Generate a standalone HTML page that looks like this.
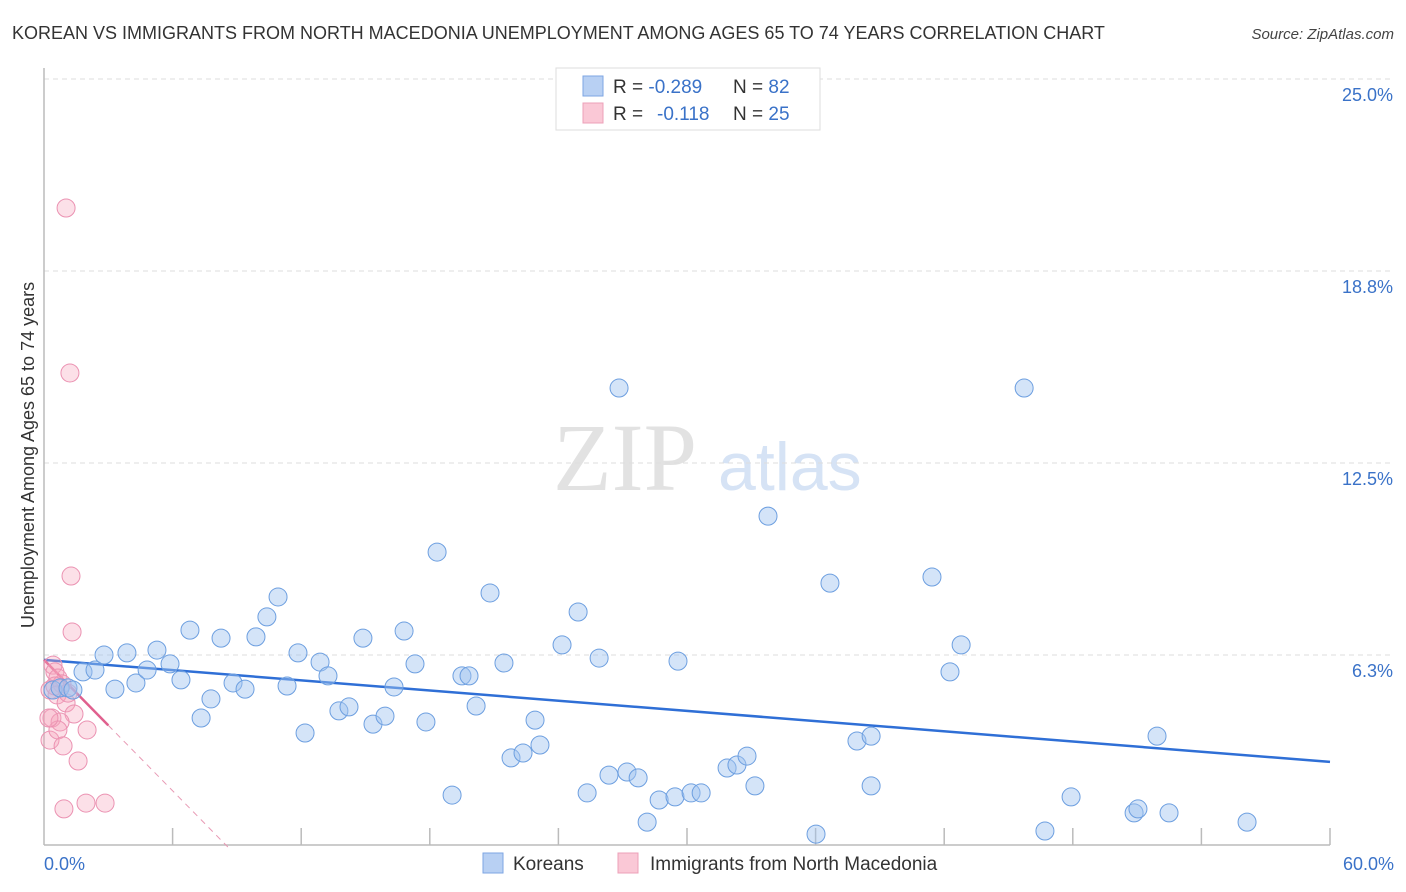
<!DOCTYPE html>
<html><head><meta charset="utf-8"><style>
body{margin:0;background:#fff;}
svg{display:block;font-family:"Liberation Sans",sans-serif;}
</style></head><body>
<svg id="chart" width="1406" height="892" viewBox="0 0 1406 892">
<text x="12" y="39" font-size="18" fill="#333">KOREAN VS IMMIGRANTS FROM NORTH MACEDONIA UNEMPLOYMENT AMONG AGES 65 TO 74 YEARS CORRELATION CHART</text>
<text x="1394" y="39" font-size="15" fill="#444" font-style="italic" text-anchor="end">Source: ZipAtlas.com</text>
<g>
<text x="553" y="490" font-size="96" font-family="Liberation Serif,serif" fill="#e2e2e2">ZIP</text>
<text x="718" y="490" font-size="68" fill="#d6e3f5">atlas</text>
</g>
<g id="grid"></g>
<g id="axes"></g>
<g id="lines"></g>
<g id="pts"></g>
<text transform="translate(34,455) rotate(-90)" font-size="18" fill="#333" text-anchor="middle">Unemployment Among Ages 65 to 74 years</text>
<text x="44" y="870" font-size="18" fill="#3a72c8">0.0%</text>
<text x="1394" y="870" font-size="18" fill="#3a72c8" text-anchor="end">60.0%</text>
<g>
<rect x="556" y="68" width="264" height="62" fill="#fff" stroke="#ddd"/>
<rect x="583" y="76" width="20" height="20" fill="#b8d0f3" stroke="#7ea6e3"/>
<rect x="583" y="103" width="20" height="20" fill="#fac8d6" stroke="#eca0b8"/>
<text x="613" y="93" font-size="19" fill="#333">R = <tspan fill="#3a72c8">-0.289</tspan><tspan x="733">N = </tspan><tspan fill="#3a72c8">82</tspan></text>
<text x="613" y="120" font-size="19" fill="#333">R = <tspan x="657" fill="#3a72c8">-0.118</tspan><tspan x="733">N = </tspan><tspan fill="#3a72c8">25</tspan></text>
</g>
<g>
<rect x="483" y="853" width="20" height="20" fill="#b8d0f3" stroke="#7ea6e3"/>
<text x="513" y="870" font-size="19" fill="#333">Koreans</text>
<rect x="618" y="853" width="20" height="20" fill="#fac8d6" stroke="#eca0b8"/>
<text x="650" y="870" font-size="19" fill="#333">Immigrants from North Macedonia</text>
</g>
</svg>
<script>
const yTicks=[6.25,12.5,18.75,25];
const yTickLabels=["6.3%","12.5%","18.8%","25.0%"];
const xTicks=[6,12,18,24,30,36,42,48,54,60];
const koreanX=[0.42,0.75,1.12,1.35,1.82,2.38,2.80,3.31,3.87,4.29,4.81,5.27,5.88,6.39,6.81,7.33,7.79,8.26,8.82,9.38,9.89,10.40,10.92,11.34,11.85,12.18,12.88,13.25,13.76,14.23,14.88,15.35,15.91,16.33,16.80,17.31,17.82,18.34,19.04,19.50,19.83,20.16,20.81,21.46,21.79,22.35,22.91,23.14,24.17,24.92,25.34,25.90,26.36,26.83,27.20,27.72,28.14,28.70,29.44,29.58,30.19,30.66,31.87,32.33,32.80,33.17,33.78,36.02,36.67,37.93,38.59,38.59,41.43,42.27,42.79,45.73,46.70,47.92,50.86,51.04,51.93,52.49,56.13];
const koreanY=[5.11,5.18,5.18,5.11,5.70,5.76,6.25,5.14,6.32,5.34,5.76,6.41,5.96,5.44,7.06,4.20,4.82,6.80,5.34,5.14,6.84,7.49,8.14,5.24,6.32,3.71,6.02,5.57,4.43,4.56,6.80,4.00,4.26,5.21,7.03,5.96,4.07,9.60,1.69,5.57,5.57,4.59,8.27,5.99,2.90,3.06,4.13,3.32,6.58,7.65,1.76,6.15,2.34,14.94,2.44,2.25,0.81,1.53,1.63,6.05,1.76,1.76,2.57,2.67,2.96,1.99,10.77,0.42,8.59,3.45,3.61,1.99,8.79,5.70,6.58,14.94,0.52,1.63,1.11,1.24,3.61,1.11,0.81];
const macX=[1.03,1.21,1.26,1.31,0.42,0.51,0.65,0.84,0.28,0.61,1.03,1.40,0.37,0.75,0.28,0.65,0.89,2.01,1.59,1.96,2.85,0.93,0.51,1.12,0.23];
const macY=[20.80,15.43,8.82,7.00,5.92,5.70,5.50,5.31,5.11,4.95,4.69,4.33,4.20,4.07,3.48,3.81,3.29,3.81,2.80,1.43,1.43,1.24,5.24,5.01,4.20];
const koreanTrend=[6.09,2.77];
const macTrend=[6.09,-0.71];

const X0=44,X1=1330,Y0=847,PY=30.72;
const sx=v=>X0+(X1-X0)*v/60;
const sy=v=>Y0-v*PY;
const NS="http://www.w3.org/2000/svg";
function mk(p,t,a){const e=document.createElementNS(NS,t);for(const k in a)e.setAttribute(k,a[k]);p.appendChild(e);return e;}
const grid=document.getElementById('grid'),axes=document.getElementById('axes'),lines=document.getElementById('lines'),pts=document.getElementById('pts');
yTicks.forEach((t,i)=>{
 const l=mk(grid,'line',{x1:X0,x2:1394,y1:sy(t),y2:sy(t),stroke:'#ddd','stroke-dasharray':'5,4'});
 
 
 const tx=mk(grid,'text',{x:1393,y:sy(t)+22,'font-size':18,fill:'#3a72c8','text-anchor':'end'});
 tx.textContent=yTickLabels[i];
 
 
});
let a=mk(axes,'line',{x1:X0,x2:X0,y1:68,y2:845,stroke:'#bbb','stroke-width':1.5});


a=mk(axes,'line',{x1:X0,x2:1330,y1:845,y2:845,stroke:'#bbb','stroke-width':1.5});


xTicks.forEach(t=>{
 const l=mk(axes,'line',{x1:sx(t),x2:sx(t),y1:828,y2:845,stroke:'#bbb','stroke-width':1.5});
 
 
});
function dot(x,y,f,s,n){const c=mk(pts,'circle',{cx:sx(x),cy:sy(y),r:9,fill:f,stroke:s,'stroke-width':1});
 
 }
macX.forEach((x,i)=>dot(x,macY[i],'rgba(245,165,190,0.35)','#eb92b2','point-macedonia'));
koreanX.forEach((x,i)=>dot(x,koreanY[i],'rgba(160,195,240,0.45)','#6d9fe0','point-korean'));
let t=mk(lines,'line',{x1:sx(0),y1:sy(koreanTrend[0]),x2:sx(60),y2:sy(koreanTrend[1]),stroke:'#2f6fd6','stroke-width':2.5});


const mAt=x=>macTrend[0]+macTrend[1]*x;
t=mk(lines,'line',{x1:sx(0),y1:sy(mAt(0)),x2:sx(3),y2:sy(mAt(3)),stroke:'#e0608e','stroke-width':2.5});


const xe=-macTrend[0]/macTrend[1];
t=mk(lines,'line',{x1:sx(3),y1:sy(mAt(3)),x2:sx(xe),y2:sy(0),stroke:'#e89ab5','stroke-width':1,'stroke-dasharray':'6,5'});


</script>
</body></html>
